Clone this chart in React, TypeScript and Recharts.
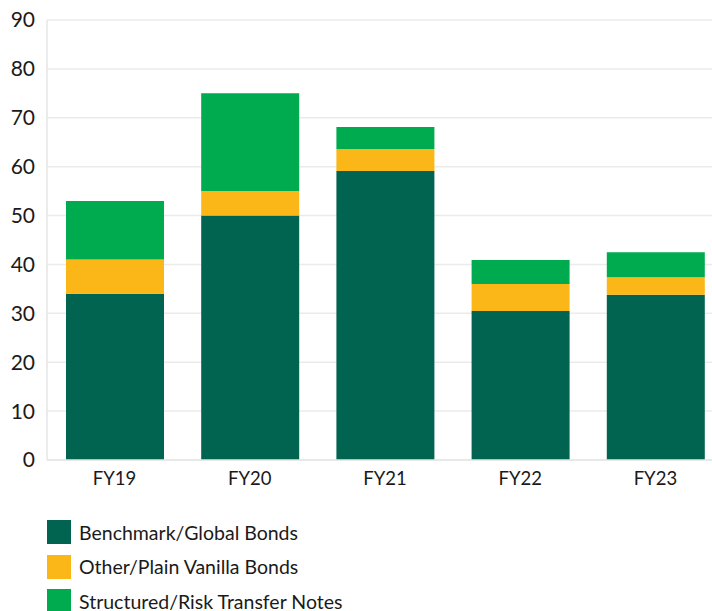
import React from 'react';
import { BarChart, Bar, XAxis, YAxis, CartesianGrid } from 'recharts';

const years = ['FY19', 'FY20', 'FY21', 'FY22', 'FY23'];
const benchmark = [34, 50, 59.1, 30.5, 33.8];
const vanilla = [7, 5, 4.5, 5.5, 3.6];
const structured = [12, 20, 4.5, 4.9, 5.1];
const yTicks = [0, 10, 20, 30, 40, 50, 60, 70, 80, 90];

const series = [
  { key: 'benchmark', name: 'Benchmark/Global Bonds', color: '#006450' },
  { key: 'vanilla', name: 'Other/Plain Vanilla Bonds', color: '#FBB617' },
  { key: 'structured', name: 'Structured/Risk Transfer Notes', color: '#00AA4F' },
];

const data = years.map((year, i) => ({
  year,
  benchmark: benchmark[i],
  vanilla: vanilla[i],
  structured: structured[i],
}));

const font = 'Lato, "Open Sans", sans-serif';

const App: React.FC = () => {
  return (
    <div
      style={{
        position: 'absolute',
        left: 0,
        top: 0,
        width: 712,
        height: 611,
        overflow: 'hidden',
        background: '#fff',
        fontFamily: font,
      }}
    >
      <BarChart
        width={728}
        height={500}
        data={data}
        margin={{ top: 20, right: 5, left: 0, bottom: 0 }}
      >
        <CartesianGrid vertical={false} stroke="#ebebeb" strokeWidth={1.5} />
        <XAxis
          dataKey="year"
          height={40}
          tickLine={false}
          tickMargin={6}
          stroke="#e6e6e6"
          strokeWidth={1.5}
          tick={{ fill: '#1a1a1a', fontSize: 18.5, fontFamily: font }}
        />
        <YAxis
          width={47}
          domain={[0, 90]}
          ticks={yTicks}
          tickLine={false}
          tickMargin={6}
          stroke="#e6e6e6"
          strokeWidth={1.5}
          tick={{ fill: '#1a1a1a', fontSize: 21, fontFamily: font }}
        />
        {series.map(s => (
          <Bar
            key={s.key}
            dataKey={s.key}
            name={s.name}
            stackId="a"
            fill={s.color}
            barSize={98}
            isAnimationActive={false}
          />
        ))}
      </BarChart>
      <div style={{ position: 'absolute', left: 47, top: 520 }}>
        {series.map(s => (
          <div
            key={s.key}
            style={{ display: 'flex', alignItems: 'center', height: 24, marginBottom: 10.5 }}
          >
            <div style={{ width: 24, height: 24, background: s.color, marginRight: 8 }} />
            <span style={{ fontSize: 19.5, color: '#1a1a1a' }}>{s.name}</span>
          </div>
        ))}
      </div>
    </div>
  );
};

export default App;
